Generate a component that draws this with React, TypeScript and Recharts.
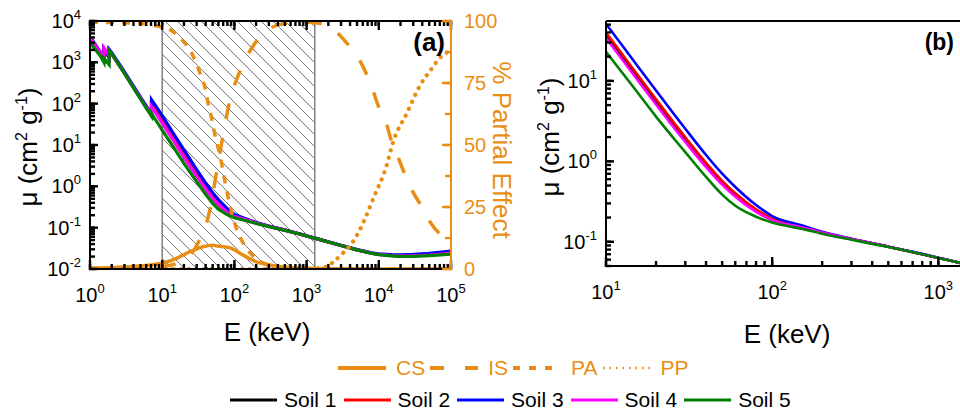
import React from 'react';
import { ComposedChart, Line, XAxis, YAxis, ReferenceArea, Label } from 'recharts';

const FONT = '"Liberation Sans", Arial, Helvetica, sans-serif';
const ORANGE = '#E98E14';

// photon energy (keV); edge energies are repeated so the jumps are vertical
const energy = [
  1, 1.2, 1.4, 1.559, 1.559, 1.7, 1.839, 1.839, 2, 2.5,
  3, 4, 5, 6, 7.112, 7.112, 8, 10,
  15, 20, 30, 40, 50, 60, 80, 100,
  150, 200, 300, 500, 800, 1000, 1500,
  2000, 3000, 5000, 8000, 10000, 15000, 20000, 30000, 50000, 80000, 100000,
];

// mass attenuation coefficient mu (cm2 g-1)
const soil1 = [
  3850, 2450, 1650, 1230, 2050, 1650, 1320, 1930, 1600, 890,
  555, 250, 137, 83, 53, 92, 67, 37,
  12.1, 5.5, 1.86, 0.9, 0.54, 0.38, 0.244, 0.189,
  0.153, 0.13, 0.108, 0.087, 0.07, 0.063, 0.052,
  0.045, 0.037, 0.029, 0.024, 0.0226, 0.0212, 0.0208, 0.0209, 0.0218, 0.0232, 0.0245,
];
const soil2 = [
  3900, 2480, 1670, 1240, 2000, 1620, 1290, 1950, 1620, 900,
  560, 252, 138, 84, 54, 97, 71, 39.5,
  13.0, 5.9, 1.99, 0.956, 0.572, 0.401, 0.253, 0.194,
  0.155, 0.131, 0.108, 0.087, 0.07, 0.063, 0.052,
  0.045, 0.037, 0.029, 0.024, 0.0227, 0.0214, 0.021, 0.0211, 0.0221, 0.0236, 0.025,
];
const soil3 = [
  4100, 2600, 1750, 1300, 2100, 1700, 1350, 2050, 1700, 950,
  590, 265, 145, 88, 56, 125, 92, 51,
  16.7, 7.6, 2.54, 1.2, 0.703, 0.48, 0.286, 0.209,
  0.16, 0.133, 0.109, 0.087, 0.071, 0.0635, 0.052,
  0.0455, 0.0375, 0.0295, 0.0245, 0.0232, 0.0222, 0.022, 0.0225, 0.024, 0.026, 0.027,
];
const soil4 = [
  3900, 2480, 1670, 1240, 2250, 1800, 1420, 1900, 1580, 880,
  550, 248, 136, 82, 53, 85, 62, 34,
  11.2, 5.09, 1.74, 0.847, 0.513, 0.363, 0.236, 0.186,
  0.152, 0.13, 0.108, 0.087, 0.07, 0.063, 0.052,
  0.045, 0.037, 0.029, 0.024, 0.0226, 0.0212, 0.0208, 0.0209, 0.0218, 0.0232, 0.0245,
];
const soil5 = [
  3000, 2000, 1400, 1000, 1250, 1050, 880, 1900, 1620, 880,
  540, 240, 130, 78, 50, 58, 42, 23,
  7.8, 3.6, 1.3, 0.64, 0.385, 0.28, 0.205, 0.174,
  0.145, 0.126, 0.106, 0.086, 0.07, 0.063, 0.052,
  0.045, 0.037, 0.029, 0.0238, 0.0222, 0.0208, 0.0203, 0.0203, 0.021, 0.0222, 0.023,
];

const soilNames = ['Soil 1', 'Soil 2', 'Soil 3', 'Soil 4', 'Soil 5'];
const soilColors = ['#000000', '#FF0000', '#0000FF', '#FF00FF', '#008000'];
const soilKeys = ['s1', 's2', 's3', 's4', 's5'];

// % partial effect of each interaction
const csE = [1, 3, 6.8, 10.3, 16, 24.3, 36.7, 50, 57.4, 87, 132, 206, 311, 471, 1000, 3000, 10000, 100000];
const csPct = [0.3, 0.8, 1.6, 2.4, 4.4, 7, 9, 9.6, 9.3, 8.5, 5.6, 2.8, 1.6, 0.8, 0.3, 0.1, 0, 0];

const isE = [1, 5, 10, 20, 30.3, 45.9, 57.4, 86.9, 120, 193, 249, 502, 1000, 1535, 2250, 3630, 5000, 6650, 8050, 10070, 12600, 15200, 18500, 23100, 29800, 39700, 51200, 77500, 100000];
const isPct = [0.2, 0.5, 1, 3.5, 9.7, 24, 40, 68, 80, 91, 95, 99, 99.5, 99, 97, 91, 86, 79, 73, 65, 59, 51, 45, 38, 31, 25, 19, 13, 11];

const paE = [1, 2, 5, 8.5, 13.7, 19.4, 26.7, 33.4, 39.2, 43.1, 49, 53.8, 63, 79, 102, 124, 150, 206, 300, 500, 1000, 100000];
const paPct = [99.5, 99.4, 99, 98, 96, 92, 86, 79, 73, 67, 60, 54, 46, 31, 18, 12, 8, 4, 1.5, 0.3, 0, 0];

const ppE = [1, 1022, 1500, 2000, 2250, 3190, 4390, 5500, 8860, 12600, 15700, 24600, 37200, 54600, 75000, 100000];
const ppPct = [0, 0, 0.3, 1.3, 2.4, 6.4, 11, 16, 30, 41, 51, 63, 74, 81, 86, 88];

const muRows = energy.map((e, i) => ({
  e, s1: soil1[i], s2: soil2[i], s3: soil3[i], s4: soil4[i], s5: soil5[i],
}));
const muRowsZoom = muRows.filter((r) => r.e >= 8);

const toRows = (es: number[], ps: number[]) => es.map((e, i) => ({ e, pct: ps[i] }));

const effects = [
  { name: 'CS', rows: toRows(csE, csPct), dash: undefined as string | undefined, cap: 'butt', width: 3.5, legendDash: undefined as string | undefined, legendWidth: 4 },
  { name: 'IS', rows: toRows(isE, isPct), dash: '16 19', cap: 'butt', width: 3.5, legendDash: '14 21', legendWidth: 4 },
  { name: 'PA', rows: toRows(paE, paPct), dash: '8 8', cap: 'butt', width: 3.5, legendDash: '7 9', legendWidth: 4 },
  { name: 'PP', rows: toRows(ppE, ppPct), dash: '0.1 7.5', cap: 'round', width: 4.2, legendDash: '1.5 5', legendWidth: 2.5 },
];

// hatched window that panel (b) enlarges
const zoomWindow = [10, 1300];

function expOf(v: number) {
  return Math.round(Math.log10(v));
}
function isDecade(v: number) {
  return Math.abs(Math.log10(v) - expOf(v)) < 1e-6;
}
const logTicks = (lo: number, hi: number) => {
  const out: number[] = [];
  for (let p = lo; p < hi; p++) for (let m = 1; m < 10; m++) out.push(m * 10 ** p);
  out.push(10 ** hi);
  return out;
};
const decadeTicks = (lo: number, hi: number) => logTicks(lo, hi).filter((v) => isDecade(v));
const pctMajor = [0, 25, 50, 75, 100];
const pctAll = [0, 12.5, 25, 37.5, 50, 62.5, 75, 87.5, 100];

const TICK_LINE = { stroke: '#000', strokeWidth: 2.4 };
const AXIS_LINE = { stroke: '#000', strokeWidth: 2 };
const noLabel = () => <g />;

const Pow10 = ({ x, y, v, anchor }: any) => (
  <text x={x} y={y} textAnchor={anchor} fontFamily={FONT} fontSize={20} fill="#000">
    10<tspan dy={-9} fontSize={13}>{expOf(v)}</tspan>
  </text>
);

// tick lines point into the plot (negative tickSize); labels are placed from the tick end
const BottomLabel = ({ x, y, payload }: any) => <Pow10 x={x} y={y + 42} v={payload.value} anchor="middle" />;
const LeftLabel = ({ x, y, payload }: any) => <Pow10 x={x - 17} y={y + 7} v={payload.value} anchor="end" />;
const PctLabel = ({ x, y, payload }: any) => (
  <text x={x + 22} y={y + 7} fontFamily={FONT} fontSize={20} fill={ORANGE}>{payload.value}</text>
);

const MuTitle = ({ x, y }: { x: number; y: number }) => (
  <text transform={`rotate(-90 ${x} ${y})`} x={x} y={y} textAnchor="middle" fontFamily={FONT} fontSize={26} fill="#000">
    μ (cm<tspan dy={-10} fontSize={16}>2</tspan>
    <tspan dy={10}> g</tspan>
    <tspan dy={-10} fontSize={16}>-1</tspan>
    <tspan dy={10}>)</tspan>
  </text>
);

const ETitle = ({ x, y }: { x: number; y: number }) => (
  <text x={x} y={y} textAnchor="middle" fontFamily={FONT} fontSize={26} fill="#000">E (keV)</text>
);

const PanelTag = ({ x, y, text, size }: any) => (
  <text x={x} y={y} textAnchor="end" fontFamily={FONT} fontSize={size} fontWeight="bold" fill="#000">{text}</text>
);

// Each side: a "major" axis (long ticks + labels) declared first, then a 1px "minor"
// axis (axis line + short ticks) that ends up hugging the plot edge.
function PanelA() {
  const xDomain = [1, 100000];
  return (
    <ComposedChart width={530} height={350} data={muRows} margin={{ top: 19, right: 19, bottom: 0, left: 30 }}>
      <XAxis xAxisId="x2" dataKey="e" type="number" scale="log" domain={xDomain} allowDataOverflow
        ticks={decadeTicks(0, 5)} interval={0} tickSize={-10} tickMargin={0} tickLine={TICK_LINE}
        tick={(p: any) => <BottomLabel {...p} />} height={80} axisLine={false}>
        <Label content={() => <ETitle x={267} y={341} />} />
      </XAxis>
      <XAxis xAxisId="x1" dataKey="e" type="number" scale="log" domain={xDomain} allowDataOverflow
        ticks={logTicks(0, 5)} interval={0} tickSize={-5} tickLine={TICK_LINE} tick={noLabel} height={1} axisLine={AXIS_LINE} />
      <XAxis xAxisId="t2" orientation="top" dataKey="e" type="number" scale="log" domain={xDomain} allowDataOverflow
        ticks={decadeTicks(0, 5)} interval={0} tickSize={-10} tickLine={TICK_LINE} tick={noLabel} height={1} axisLine={false}>
        <Label content={() => <PanelTag x={445} y={51} text="(a)" size={26} />} />
      </XAxis>
      <XAxis xAxisId="t1" orientation="top" dataKey="e" type="number" scale="log" domain={xDomain} allowDataOverflow
        ticks={logTicks(0, 5)} interval={0} tickSize={-5} tickLine={TICK_LINE} tick={noLabel} height={1} axisLine={AXIS_LINE} />
      <YAxis yAxisId="y2" type="number" scale="log" domain={[0.01, 10000]} allowDataOverflow
        ticks={decadeTicks(-2, 4)} interval={0} tickSize={-9} tickMargin={0} tickLine={TICK_LINE}
        tick={(p: any) => <LeftLabel {...p} />} width={59} axisLine={false}>
        <Label content={() => <MuTitle x={37} y={147} />} />
      </YAxis>
      <YAxis yAxisId="y1" type="number" scale="log" domain={[0.01, 10000]} allowDataOverflow
        ticks={logTicks(-2, 4)} interval={0} tickSize={-5} tickLine={TICK_LINE} tick={noLabel} width={1} axisLine={AXIS_LINE} />
      <YAxis yAxisId="p2" orientation="right" type="number" domain={[0, 100]} allowDataOverflow
        ticks={pctMajor} interval={0} tickSize={-10} tickMargin={0} tickLine={{ stroke: ORANGE, strokeWidth: 2.4 }}
        tick={(p: any) => <PctLabel {...p} />} width={59} axisLine={false}>
        <Label
          content={() => (
            <text transform="rotate(90 493 150)" x={493} y={150} textAnchor="middle" fontFamily={FONT} fontSize={26} fill={ORANGE}>
              % Partial Effect
            </text>
          )}
        />
      </YAxis>
      <YAxis yAxisId="p1" orientation="right" type="number" domain={[0, 100]} allowDataOverflow
        ticks={pctAll} interval={0} tickSize={-6} tickLine={{ stroke: ORANGE, strokeWidth: 2.4 }} tick={noLabel} width={1}
        axisLine={{ stroke: ORANGE, strokeWidth: 2 }} />
      <ReferenceArea xAxisId="x1" yAxisId="y1" x1={zoomWindow[0]} x2={zoomWindow[1]} y1={0.01} y2={10000}
        fill="url(#hatch)" fillOpacity={1} stroke="#6f6f6f" strokeWidth={1.3} />
      {soilKeys.map((k, i) => (
        <Line key={k} xAxisId="x1" yAxisId="y1" dataKey={k} name={soilNames[i]} type="linear"
          stroke={soilColors[i]} strokeWidth={3.2} dot={false} isAnimationActive={false} />
      ))}
      {effects.map((s) => (
        <Line key={s.name} xAxisId="x1" yAxisId="p1" data={s.rows} dataKey="pct" name={s.name} type="monotone"
          stroke={ORANGE} strokeWidth={s.width} strokeDasharray={s.dash} strokeLinecap={s.cap as any}
          dot={false} isAnimationActive={false} />
      ))}
    </ComposedChart>
  );
}

function PanelB() {
  const xDomain = [10, 1350];
  const yDomain = [0.05, 55.5];
  const yAll = logTicks(-2, 2).filter((t) => t >= 0.05 && t <= 55.5);
  return (
    <ComposedChart width={440} height={350} data={muRowsZoom} margin={{ top: 20, right: 0, bottom: 0, left: 26 }}>
      <XAxis xAxisId="x2" dataKey="e" type="number" scale="log" domain={xDomain} allowDataOverflow
        ticks={decadeTicks(1, 3)} interval={0} tickSize={-10} tickMargin={0} tickLine={TICK_LINE}
        tick={(p: any) => <BottomLabel {...p} />} height={83} axisLine={false}>
        <Label content={() => <ETitle x={267} y={343} />} />
      </XAxis>
      <XAxis xAxisId="x1" dataKey="e" type="number" scale="log" domain={xDomain} allowDataOverflow
        ticks={logTicks(1, 3)} interval={0} tickSize={-5} tickLine={TICK_LINE} tick={noLabel} height={1} axisLine={AXIS_LINE} />
      <XAxis xAxisId="t1" orientation="top" dataKey="e" type="number" scale="log" domain={xDomain} allowDataOverflow
        ticks={decadeTicks(1, 3)} interval={0} tickLine={false} tick={noLabel} height={1} axisLine={AXIS_LINE}>
        <Label content={() => <PanelTag x={434} y={50} text="(b)" size={23} />} />
      </XAxis>
      <YAxis yAxisId="y2" type="number" scale="log" domain={yDomain} allowDataOverflow
        ticks={yAll.filter((v) => isDecade(v))} interval={0} tickSize={-9} tickMargin={0} tickLine={TICK_LINE}
        tick={(p: any) => <LeftLabel {...p} />} width={59} axisLine={false}>
        <Label content={() => <MuTitle x={39} y={137} />} />
      </YAxis>
      <YAxis yAxisId="y1" type="number" scale="log" domain={yDomain} allowDataOverflow
        ticks={yAll} interval={0} tickSize={-5} tickLine={TICK_LINE} tick={noLabel} width={1} axisLine={AXIS_LINE} />
      {soilKeys.map((k, i) => (
        <Line key={k} xAxisId="x1" yAxisId="y1" dataKey={k} name={soilNames[i]} type="monotone"
          stroke={soilColors[i]} strokeWidth={2.6} dot={false} isAnimationActive={false} />
      ))}
    </ComposedChart>
  );
}

const Swatch = ({ color, dash, width, len }: any) => (
  <svg width={len} height={12} style={{ display: 'block' }}>
    <line x1={0} x2={len} y1={6} y2={6} stroke={color} strokeWidth={width} strokeDasharray={dash} />
  </svg>
);

export default function App() {
  return (
    <div style={{ position: 'absolute', left: 0, top: 0, width: 960, height: 414, background: '#fff', overflow: 'hidden', fontFamily: FONT }}>
      <svg width={0} height={0} style={{ position: 'absolute' }}>
        <defs>
          <pattern id="hatch" patternUnits="userSpaceOnUse" width={12} height={12}>
            <path d="M0,0 L12,12 M-3,9 L3,15 M9,-3 L15,3" stroke="#7a7a7a" strokeWidth={1} />
          </pattern>
        </defs>
      </svg>
      <div style={{ position: 'absolute', left: 0, top: 0 }}>
        <PanelA />
      </div>
      <div style={{ position: 'absolute', left: 520, top: 0 }}>
        <PanelB />
      </div>
      {/* legend: partial effects */}
      <div style={{ position: 'absolute', left: 338, top: 357, height: 22, display: 'flex', alignItems: 'center' }}>
        {effects.map((s) => (
          <div key={s.name} style={{ display: 'flex', alignItems: 'center', marginRight: 5 }}>
            <Swatch color={ORANGE} dash={s.legendDash} width={s.legendWidth} len={48} />
            <span style={{ marginLeft: 10, fontSize: 21, lineHeight: '22px', color: ORANGE }}>{s.name}</span>
          </div>
        ))}
      </div>
      {/* legend: soils */}
      <div style={{ position: 'absolute', left: 230, top: 389, height: 22, display: 'flex', alignItems: 'center' }}>
        {soilNames.map((n, i) => (
          <div key={n} style={{ display: 'flex', alignItems: 'center', marginRight: 7 }}>
            <Swatch color={soilColors[i]} width={3.2} len={47} />
            <span style={{ marginLeft: 7, fontSize: 21, lineHeight: '22px', color: '#000' }}>{n}</span>
          </div>
        ))}
      </div>
    </div>
  );
}
